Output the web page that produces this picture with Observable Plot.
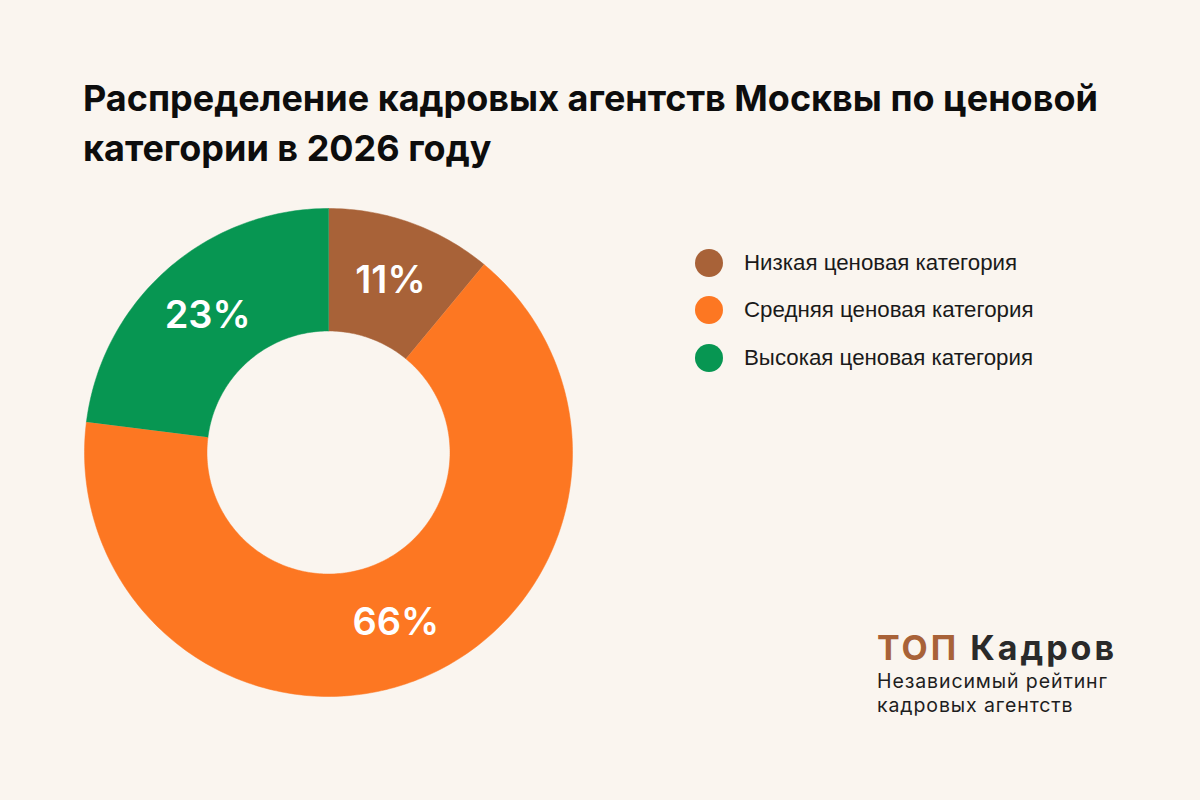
<!DOCTYPE html>
<html><head><meta charset="utf-8">
<script src="https://cdn.jsdelivr.net/npm/d3@7"></script>
<script src="https://cdn.jsdelivr.net/npm/@observablehq/plot@0.6"></script>
<style>
html,body{margin:0;padding:0;background:#faf5ef;}
#page{position:relative;width:1200px;height:800px;overflow:hidden;background:#faf5ef;font-family:Inter,"Noto Sans",sans-serif;}
#title{position:absolute;left:83px;top:73px;font-size:36px;font-weight:700;line-height:50px;color:#0d0d0d;white-space:nowrap;}
#chart{position:absolute;left:0;top:180px;}
#legend{position:absolute;left:695px;top:239px;}
.item{display:flex;align-items:center;height:47.5px;font-family:"Liberation Sans",Arial,sans-serif;font-size:22.3px;color:#1a1a1a;white-space:nowrap;}
.sw{width:28px;height:28px;border-radius:50%;margin-right:21px;flex:none;}
#logo{position:absolute;left:877px;top:629px;color:#222;}
#logo .brand{font-size:34px;font-weight:700;line-height:38px;white-space:nowrap;letter-spacing:3px;}
#logo .brand .top{color:#a86238;}
#logo .brand .kad{color:#2a2a2a;}
#logo .sub{font-size:19.5px;line-height:23.8px;height:23.8px;font-weight:400;color:#1e1e1e;white-space:nowrap;letter-spacing:0.9px;}
#logo .sub.first{margin-top:3px;}
</style>
</head><body>
<div id="page">
  <div id="title"></div>
  <div id="chart"></div>
  <div id="legend"></div>
  <div id="logo">
    <div class="brand"><span class="top">ТОП</span> <span class="kad">Кадров</span></div>
    <div class="sub first">Независимый рейтинг</div>
    <div class="sub">кадровых агентств</div>
  </div>
</div>
<script>
const titleLines = ["Распределение кадровых агентств Москвы по ценовой", "категории в 2026 году"];
const categories = ["Низкая ценовая категория", "Средняя ценовая категория", "Высокая ценовая категория"];
const shares = [11, 66, 23];
const shareLabels = ["11%", "66%", "23%"];
const colors = ["#a86238", "#fd7722", "#079652"];

document.getElementById("title").innerHTML = titleLines.join("<br>");

const innerR = 0.498;
const pie = d3.pie().sort(null).value(d => d)(shares);
const rows = [];
const labelRows = [];
pie.forEach((p, i) => {
  const a0 = p.startAngle, a1 = p.endAngle;
  const n = Math.max(2, Math.ceil((a1 - a0) / (2 * Math.PI) * 360));
  for (let k = 0; k <= n; k++) {
    const a = a0 + (a1 - a0) * k / n;
    rows.push({cat: categories[i], x: Math.sin(a), y: Math.cos(a)});
  }
  for (let k = n; k >= 0; k--) {
    const a = a0 + (a1 - a0) * k / n;
    rows.push({cat: categories[i], x: innerR * Math.sin(a), y: innerR * Math.cos(a)});
  }
  const m = (a0 + a1) / 2, rm = (1 + innerR) / 2;
  labelRows.push({x: rm * Math.sin(m), y: rm * Math.cos(m), text: shareLabels[i]});
});

const chart = Plot.plot({
  width: 660,
  height: 560,
  margin: 0,
  style: {background: "transparent", overflow: "visible"},
  x: {domain: [-1, 1], range: [84, 572], axis: null},
  y: {domain: [-1, 1], range: [516, 28], axis: null},
  color: {domain: categories, range: colors},
  marks: [
    Plot.line(rows, {x: "x", y: "y", z: "cat", fill: "cat", stroke: "cat", strokeWidth: 0.5}),
    Plot.text(labelRows, {x: "x", y: "y", text: "text", fill: "white", fontSize: 38, fontWeight: 600, fontFamily: "Inter, sans-serif"})
  ]
});
document.getElementById("chart").appendChild(chart);

const legend = document.getElementById("legend");
categories.forEach((c, i) => {
  const item = document.createElement("div");
  item.className = "item";
  const sw = document.createElement("span");
  sw.className = "sw";
  sw.style.background = colors[i];
  const t = document.createElement("span");
  t.textContent = c;
  item.appendChild(sw);
  item.appendChild(t);
  legend.appendChild(item);
});
</script>
</body></html>
